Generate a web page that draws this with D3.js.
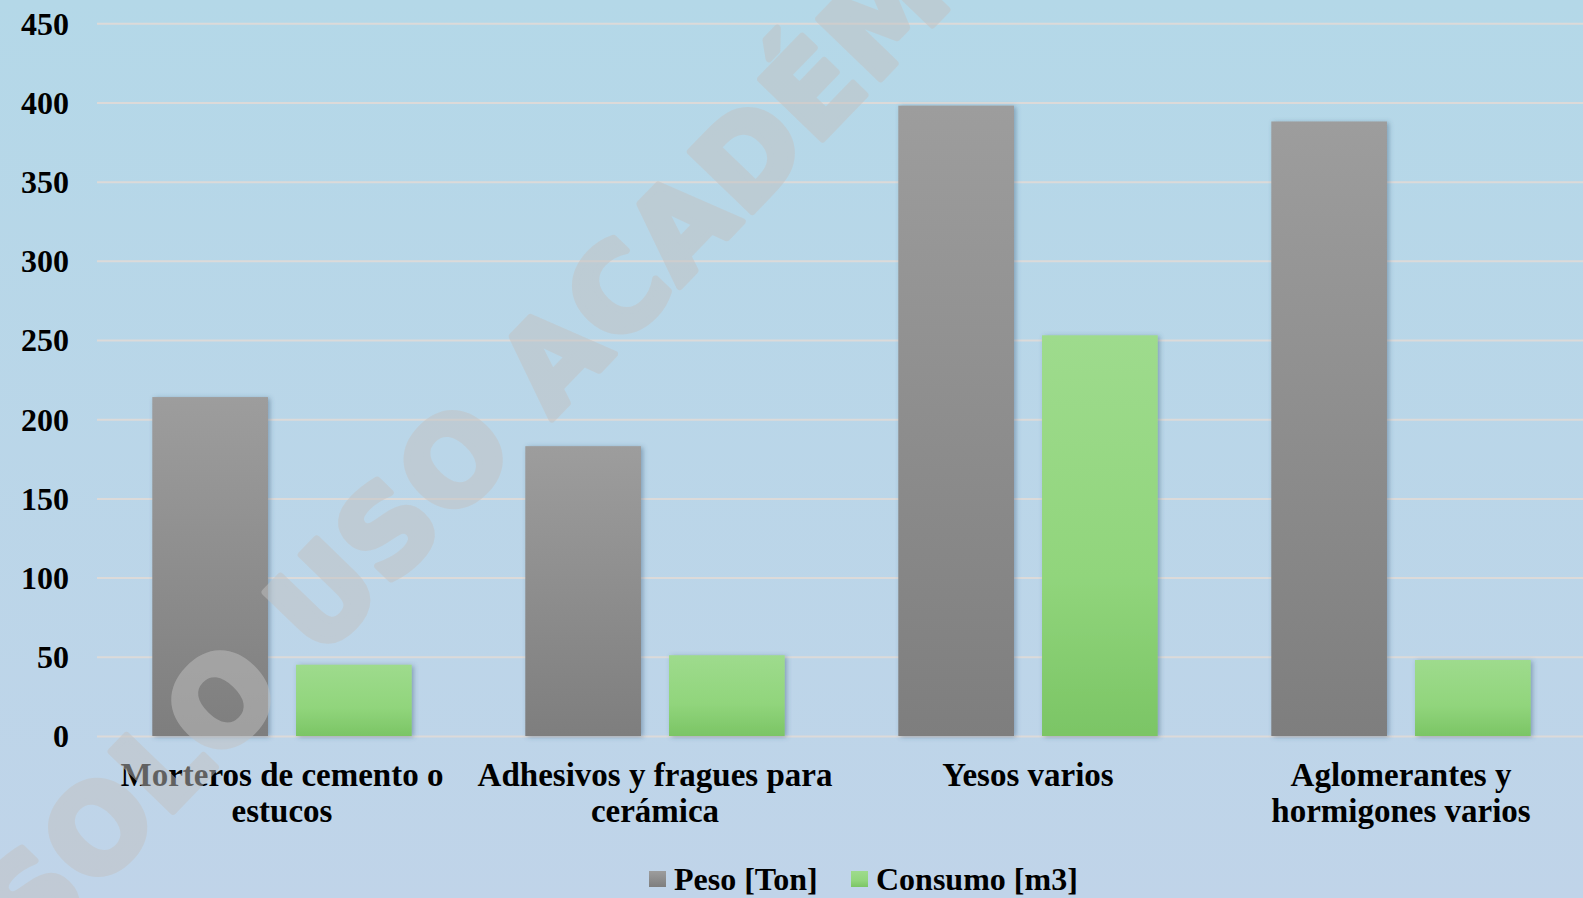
<!DOCTYPE html>
<html>
<head>
<meta charset="utf-8">
<script src="https://cdn.jsdelivr.net/npm/d3@7"></script>
<style>
  html, body { margin: 0; padding: 0; overflow: hidden; }
  svg { display: block; }
</style>
</head>
<body>
<svg id="chart" width="1583" height="898"></svg>
<script>
// ---- data ----
const categories = [
  ["Morteros de cemento o", "estucos"],
  ["Adhesivos y fragues para", "cerámica"],
  ["Yesos varios"],
  ["Aglomerantes y", "hormigones varios"]
];
const seriesNames = ["Peso [Ton]", "Consumo [m3]"];
const pesoValues = [214, 183, 398, 388];
const consumoValues = [45, 51, 253, 48];
const yTicks = [0, 50, 100, 150, 200, 250, 300, 350, 400, 450];
const watermarkText = "SOLO USO ACADÉMICO";

// ---- setup ----
const W = 1583, H = 898;
const svg = d3.select("#chart");
const defs = svg.append("defs");

const bg = defs.append("linearGradient").attr("id", "bg").attr("x1", 0).attr("y1", 0).attr("x2", 0).attr("y2", 1);
bg.append("stop").attr("offset", "0%").attr("stop-color", "#b4d8e8");
bg.append("stop").attr("offset", "100%").attr("stop-color", "#c0d4e9");

const gGray = defs.append("linearGradient").attr("id", "gGray").attr("x1", 0).attr("y1", 0).attr("x2", 0).attr("y2", 1);
gGray.append("stop").attr("offset", "0%").attr("stop-color", "#9d9d9d");
gGray.append("stop").attr("offset", "100%").attr("stop-color", "#7e7e7e");

const gGreen = defs.append("linearGradient").attr("id", "gGreen").attr("x1", 0).attr("y1", 0).attr("x2", 0).attr("y2", 1);
gGreen.append("stop").attr("offset", "0%").attr("stop-color", "#9edb8d");
gGreen.append("stop").attr("offset", "60%").attr("stop-color", "#91d57c");
gGreen.append("stop").attr("offset", "100%").attr("stop-color", "#7bc565");

const shadow = defs.append("filter").attr("id", "shadow").attr("x", "-20%").attr("y", "-5%").attr("width", "140%").attr("height", "115%");
shadow.append("feDropShadow").attr("dx", 2).attr("dy", 1).attr("stdDeviation", 2.5)
  .attr("flood-color", "#3b5a78").attr("flood-opacity", 0.45);

svg.append("rect").attr("width", W).attr("height", H).attr("fill", "url(#bg)");

// ---- scales ----
const y = d3.scaleLinear().domain([0, 450]).range([736, 23.3]);
const x0 = d3.scaleBand().domain(d3.range(categories.length))
  .range([95.5, 1587.5]).paddingInner(0.3046).paddingOuter(0.1523);
const x1 = d3.scaleBand().domain(seriesNames)
  .range([0, x0.bandwidth()]).paddingInner(0.195).paddingOuter(0);
const fills = { "Peso [Ton]": "url(#gGray)", "Consumo [m3]": "url(#gGreen)" };

const fontFam = "'Liberation Serif', 'Times New Roman', serif";

// ---- y axis + gridlines ----
const plotLeft = 97;
const yAxis = d3.axisLeft(y).tickValues(yTicks).tickSize(-(W - plotLeft)).tickPadding(28);
const ga = svg.append("g").attr("transform", `translate(${plotLeft},0)`).call(yAxis);
ga.select(".domain").remove();
ga.selectAll(".tick line").attr("stroke", "#dcdad9").attr("stroke-width", 2);
ga.selectAll(".tick text")
  .attr("font-family", fontFam).attr("font-weight", "bold").attr("font-size", 32)
  .attr("fill", "#000").attr("dy", "0.34em");

// ---- bars ----
const rows = categories.map((c, i) => ({ i, vals: [
  { s: seriesNames[0], v: pesoValues[i] },
  { s: seriesNames[1], v: consumoValues[i] }
]}));
const groups = svg.append("g").selectAll("g").data(rows).join("g")
  .attr("transform", d => `translate(${x0(d.i)},0)`);
groups.selectAll("rect").data(d => d.vals).join("rect")
  .attr("x", d => x1(d.s))
  .attr("y", d => y(d.v))
  .attr("width", x1.bandwidth())
  .attr("height", d => y(0) - y(d.v))
  .attr("fill", d => fills[d.s])
  .attr("filter", "url(#shadow)");

// ---- category labels ----
const labels = svg.append("g").selectAll("text").data(categories).join("text")
  .attr("font-family", fontFam).attr("font-weight", "bold").attr("font-size", 33)
  .attr("fill", "#000").attr("text-anchor", "middle")
  .attr("x", (d, i) => x0(i) + x0.bandwidth() / 2)
  .attr("y", 786);
labels.selectAll("tspan").data(d => d).join("tspan")
  .attr("x", function () { return d3.select(this.parentNode).attr("x"); })
  .attr("dy", (d, j) => j === 0 ? 0 : 36)
  .text(d => d);

// ---- legend ----
const legendItems = [
  { name: seriesNames[0], fill: "url(#gGray)", sx: 649, tx: 674 },
  { name: seriesNames[1], fill: "url(#gGreen)", sx: 851, tx: 876 }
];
const lg = svg.append("g").selectAll("g").data(legendItems).join("g");
lg.append("rect").attr("x", d => d.sx).attr("y", 871).attr("width", 17).attr("height", 16).attr("fill", d => d.fill);
lg.append("text").attr("x", d => d.tx).attr("y", 890)
  .attr("font-family", fontFam).attr("font-weight", "bold").attr("font-size", 32)
  .attr("fill", "#000").text(d => d.name);

// ---- watermark ----
svg.append("g").attr("opacity", 0.5)
  .append("text")
  .attr("transform", "translate(578,392) rotate(-46)")
  .attr("text-anchor", "middle")
  .attr("font-family", "'DejaVu Sans', sans-serif").attr("font-weight", "bold")
  .attr("font-size", 118)
  .attr("letter-spacing", 3)
  .attr("fill", "#c2c2c2")
  .attr("stroke", "#c2c2c2").attr("stroke-width", 7).attr("stroke-linejoin", "round")
  .text(watermarkText);
</script>
</body>
</html>
